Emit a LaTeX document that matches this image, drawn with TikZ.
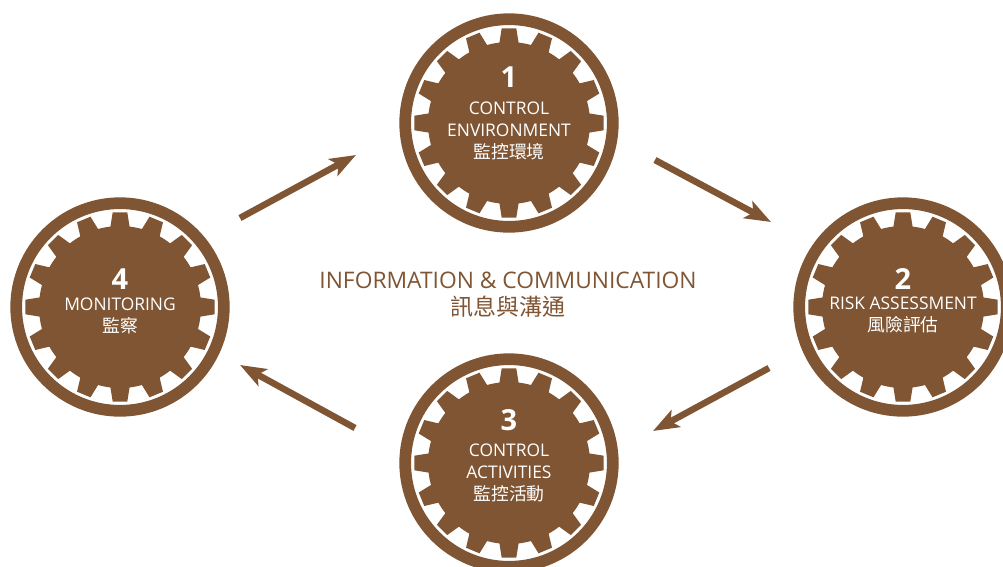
\documentclass[tikz,border=0pt]{standalone}
\usepackage{fontspec}
\setmainfont{Open Sans}
\newfontfamily\cjk{Noto Sans CJK TC}
\usetikzlibrary{arrows.meta,positioning}
\definecolor{gearbrown}{RGB}{127,85,51}
\newcommand{\zh}[1]{{\cjk\fontsize{17.8}{21.5}\selectfont #1}}

\begin{document}
\begin{tikzpicture}
[
  x=1pt, y=-1pt,
  gearbody/.style={fill=gearbrown},
  ringnode/.style={circle, draw=gearbrown, line width=11.7pt, minimum size=207.6pt, inner sep=0pt},
  gearnum/.style={text=white, font=\fontsize{29}{29}\selectfont\bfseries},
  gearlbl/.style={text=white, align=center, font=\fontsize{17.4}{21.8}\selectfont},
  centre/.style={text=gearbrown, align=center, font=\fontsize{22.8}{27}\selectfont},
  flow/.style={draw=gearbrown, line width=6.5pt, -{Stealth[length=26pt,width=19pt,inset=6pt]}}
]
 \useasboundingbox (0,0) rectangle (1003,566);

 % gears: body, teeth, outer ring
 \foreach \n/\x/\y in {1/509/123, 2/903/307, 3/509/463, 4/120/307} {
   \fill[gearbody] (\x,\y) circle (81pt);
   \foreach \a in {0,22.5,...,337.5}
     \fill[gearbody, shift={(\x,\y)}, rotate=\a] (-7:80) -- (-4.4:95) -- (4.4:95) -- (7:80) -- cycle;
   \node[ringnode] (g\n) at (\x,\y) {};
 }

 \node[gearnum] (n1) at (509,77) {1};
 \node[gearlbl] (l1) at (509,131) {CONTROL\\ENVIRONMENT\\\zh{監控環境}};

 \node[gearnum] (n2) at (903,279) {2};
 \node[gearlbl] (l2) at (903,315) {RISK ASSESSMENT\\\zh{風險評估}};

 \node[gearnum] (n3) at (509,420) {3};
 \node[gearlbl] (l3) at (509,473) {CONTROL\\ACTIVITIES\\\zh{監控活動}};

 \node[gearnum] (n4) at (120,279) {4};
 \node[gearlbl] (l4) at (120,316) {MONITORING\\\zh{監察}};

 \node[centre] (info) at (508,295) {INFORMATION \& COMMUNICATION\\{\cjk\fontsize{23}{27}\selectfont 訊息與溝通}};

 % arrows
 \coordinate (a1s) at (240,218); \coordinate (a1e) at (356,155);
 \coordinate (a2s) at (655,160); \coordinate (a2e) at (771,222);
 \coordinate (a3s) at (769,368); \coordinate (a3e) at (653,431);
 \coordinate (a4s) at (355,428); \coordinate (a4e) at (240,365);

 \draw[flow] (a1s) -- (a1e);
 \draw[flow] (a2s) -- (a2e);
 \draw[flow] (a3s) -- (a3e);
 \draw[flow] (a4s) -- (a4e);
\end{tikzpicture}
\end{document}
